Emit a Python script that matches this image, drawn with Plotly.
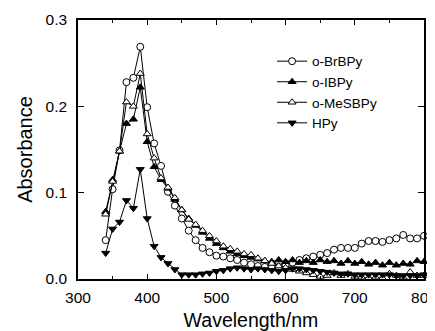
import plotly.graph_objects as go

wavelength = [340, 350, 360, 370, 380, 390, 400, 410, 420, 430, 440, 450, 460, 470, 480, 490,
              500, 510, 520, 530, 540, 550, 560, 570, 580, 590, 600, 610, 620, 630, 640, 650,
              660, 670, 680, 690, 700, 710, 720, 730, 740, 750, 760, 770, 780, 790, 800]

o_BrBPy = [0.045, 0.104, 0.149, 0.228, 0.233, 0.269, 0.199, 0.157, 0.131, 0.101, 0.085, 0.070,
           0.056, 0.045, 0.036, 0.031, 0.027, 0.026, 0.024, 0.022, 0.019, 0.017, 0.015, 0.014,
           0.013, 0.014, 0.016, 0.019, 0.022, 0.024, 0.026, 0.028, 0.030, 0.034, 0.036, 0.036,
           0.036, 0.041, 0.044, 0.044, 0.043, 0.045, 0.047, 0.051, 0.047, 0.047, 0.050]

o_IBPy = [0.078, 0.115, 0.148, 0.180, 0.185, 0.222, 0.159, 0.130, 0.115, 0.105, 0.092, 0.080,
          0.070, 0.062, 0.054, 0.047, 0.041, 0.036, 0.032, 0.029, 0.027, 0.025, 0.023, 0.021,
          0.020, 0.022, 0.020, 0.022, 0.019, 0.021, 0.019, 0.022, 0.020, 0.021, 0.018, 0.021,
          0.018, 0.020, 0.017, 0.019, 0.016, 0.019, 0.016, 0.018, 0.017, 0.021, 0.020]

o_MeSBPy = [0.075, 0.113, 0.148, 0.205, 0.200, 0.238, 0.168, 0.140, 0.117, 0.106, 0.094, 0.080,
            0.069, 0.063, 0.056, 0.050, 0.044, 0.038, 0.035, 0.032, 0.029, 0.028, 0.024, 0.021,
            0.018, 0.015, 0.013, 0.011, 0.009, 0.007, 0.005, 0.003, 0.004, 0.007, 0.004, 0.006,
            0.003, 0.002, 0.001, 0.002, 0.001, 0.006, 0.004, 0.002, 0.008, 0.004, 0.004]

HPy = [0.030, 0.058, 0.066, 0.091, 0.082, 0.127, 0.070, 0.038, 0.025, 0.018, 0.011, 0.005,
       0.005, 0.005, 0.006, 0.007, 0.009, 0.010, 0.012, 0.013, 0.012, 0.011, 0.012, 0.011,
       0.010, 0.009, 0.010, 0.012, 0.012, 0.011, 0.010, 0.009, 0.008, 0.007, 0.006, 0.006,
       0.005, 0.005, 0.005, 0.005, 0.005, 0.005, 0.004, 0.004, 0.004, 0.004, 0.005]

series = [
    ("o-BrBPy", o_BrBPy, "circle", "white", 7),
    ("o-IBPy", o_IBPy, "triangle-up", "black", 7),
    ("o-MeSBPy", o_MeSBPy, "triangle-up", "white", 7),
    ("HPy", HPy, "triangle-down", "black", 7),
]

fig = go.Figure()
for name, vals, sym, fill, size in series:
    fig.add_trace(go.Scatter(
        x=wavelength, y=vals, name=name, mode="lines+markers",
        line=dict(color="black", width=1),
        marker=dict(symbol=sym, size=size, color=fill, line=dict(color="black", width=1)),
        cliponaxis=False,
    ))

font = "Liberation Sans, Arial, sans-serif"
# the page body adds an 8px offset, so the figure is sized to the visible window
fig.update_layout(
    width=427, height=323,
    margin=dict(l=70, r=11, t=12, b=52, autoexpand=False),
    paper_bgcolor="white", plot_bgcolor="white",
    font=dict(family=font, size=15, color="black"),
    showlegend=True,
    legend=dict(x=0.561, y=0.9, xanchor="left", yanchor="top",
                bgcolor="rgba(0,0,0,0)", font=dict(size=13.5), itemwidth=30,
                tracegroupgap=0),
    xaxis=dict(range=[300, 800], dtick=100, tick0=300, showgrid=False, zeroline=False,
               automargin=False, ticklabeloverflow="allow",
               showline=True, linecolor="black", linewidth=1.5, mirror="ticks",
               ticks="inside", ticklen=5, tickcolor="black",
               minor=dict(dtick=50, ticks="inside", ticklen=3, tickcolor="black"),
               title=dict(text="Wavelength/nm", font=dict(size=19.5), standoff=10),
               tickfont=dict(size=15.5), ticklabelstandoff=4),
    yaxis=dict(range=[0, 0.3], dtick=0.1, tickformat=".1f", showgrid=False, zeroline=False,
               automargin=False, ticklabeloverflow="allow",
               showline=True, linecolor="black", linewidth=1.5, mirror="ticks",
               ticks="inside", ticklen=6, tickcolor="black",
               title=dict(text="Absorbance", font=dict(size=20), standoff=8),
               tickfont=dict(size=15.5), ticklabelstandoff=6),
)

fig.write_html("out.html")
